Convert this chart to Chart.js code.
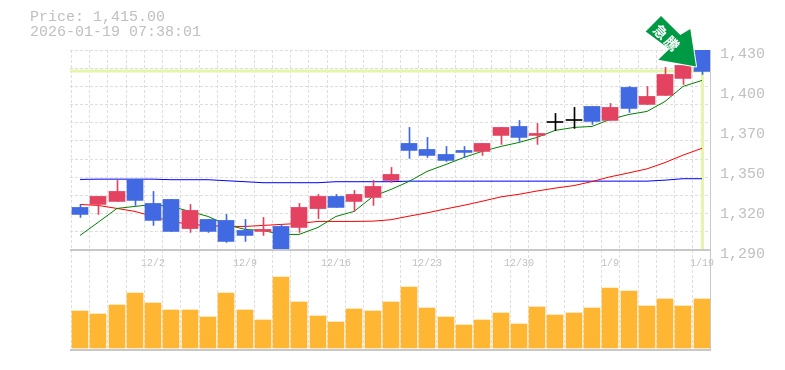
<!DOCTYPE html>
<html><head><meta charset="utf-8">
<style>
html,body{margin:0;padding:0;background:#fff;width:785px;height:370px;overflow:hidden}
canvas{position:absolute;left:0;top:0}
#info{position:absolute;left:30px;top:10px;font:15px/15px "Liberation Mono",monospace;color:#c0c0c0;white-space:pre}
</style>
<script src="https://cdn.jsdelivr.net/npm/chart.js@4"></script>
</head><body>
<canvas id="price" width="785" height="275"></canvas>
<canvas id="vol" width="785" height="370"></canvas>
<div id="info">Price: 1,415.00
2026-01-19 07:38:01</div>
<script>
const dates=['11/26','11/27','11/28','12/1','12/2','12/3','12/4','12/5','12/8','12/9','12/10','12/11','12/12','12/15','12/16','12/17','12/18','12/19','12/22','12/23','12/24','12/25','12/26','12/29','12/30','1/5','1/6','1/7','1/8','1/9','1/13','1/14','1/15','1/16','1/19'];
const opens=[1319.8,1321.9,1324,1339.4,1322.6,1325.4,1305,1311.4,1310.7,1303.7,1303,1306.5,1305.8,1319,1327.5,1324,1326.8,1338.7,1364.6,1360.4,1356.9,1359.7,1359,1370.2,1376.5,1370.2,1379.25,1380.65,1390.5,1380.7,1403.8,1391.9,1398.2,1410.1,1430];
const closes=[1314.9,1327.5,1331,1324.7,1310.7,1303,1317.7,1303,1296,1300.2,1304.4,1290,1319.8,1327.5,1319.8,1328.9,1334.5,1342.9,1359.7,1356.2,1352.7,1358.3,1364.6,1375.8,1368.8,1371.6,1379.25,1380.65,1380,1389.8,1389.1,1397.5,1412.9,1419.2,1415];
const highs=[1321.9,1327.5,1338.7,1339.4,1331,1325.4,1321.9,1311.4,1314.9,1311.4,1312.8,1307.9,1322.6,1328.9,1328.9,1331.7,1338.7,1347.8,1375.8,1368.8,1362.5,1362.5,1364.6,1375.8,1380.7,1378.6,1385.6,1389.8,1390.5,1392.6,1404.5,1404.5,1417.8,1419.2,1430];
const lows=[1312.8,1314.9,1324,1321.2,1307.2,1303,1302.3,1302.3,1295.3,1296,1300.2,1290,1302.3,1312,1319.8,1317,1321.2,1337.3,1354.1,1354.8,1352,1354.8,1356.2,1363.9,1366,1363.9,1373.7,1375.1,1377.9,1380.7,1386.3,1391.9,1398.2,1405.9,1412.9];
const maShort=[1300.2,1309.3,1319.1,1320.5,1321.9,1320.5,1317,1313.5,1307.9,1304.4,1303.7,1300.9,1300.9,1305.8,1313.5,1317,1327.5,1332.4,1338,1345,1349.9,1354.8,1359,1362.5,1365.3,1368.8,1373.7,1375.8,1376.5,1381.4,1384.9,1387,1394,1404.5,1408.7];
const maMid=[1321.9,1321.2,1319.1,1317,1313.5,1310,1307.9,1307.2,1306.5,1306.5,1307.2,1307.9,1308.6,1310,1310,1310,1310.2,1311.2,1313.7,1316,1318.8,1321.3,1324.1,1327.2,1329,1331.3,1333.3,1335.1,1337.9,1341.2,1344,1346.8,1351.2,1356.4,1361.2];
const maLong=[1339.4,1339.6,1339.6,1339.6,1339.6,1339.2,1339.2,1339.2,1338.5,1337.8,1337.1,1337.1,1337.1,1337.1,1337.8,1337.8,1337.8,1337.8,1338.2,1338.2,1338.2,1338.2,1338.2,1338.2,1338.2,1338.2,1338.2,1338.2,1338.2,1338.2,1338.2,1338.2,1338.9,1339.9,1339.9];
const volumes=[37000,34000,43000,55000,45000,38000,38000,31000,55000,38000,28000,71000,46000,32000,26000,39000,37000,46000,61000,40000,31000,23000,28000,35000,24000,41000,33000,35000,40000,60000,57000,42000,49000,42000,49000];
const priceTicks=[1290,1320,1350,1370,1400,1430];
const tickPositions=[1290,1318,1346,1374,1402,1430];
const lastPrice=1415;
const badgeText='急騰';

const GREY='#c0c0c0',GRID='#dedede',EDGE='#c8c8c8';
const UP='#e34360',DOWN='#4169e1',DOJI='#000000',VOL='#ffb733',MARK='#e3f6a9';
const fmt=n=>n.toLocaleString('en-US');
const snap=shift=>scale=>{const f=Object.getPrototypeOf(scale).getPixelForValue;
  scale.getPixelForValue=function(v,i){return Math.round(f.call(this,v,i)+0.86)+shift;};};
const candleColor=ctx=>{const i=ctx.dataIndex;return closes[i]>opens[i]?UP:closes[i]<opens[i]?DOWN:DOJI;};
const xGrid={offset:true,color:GRID,lineWidth:1,tickLength:0,drawTicks:false};
const dash={dash:[3,2]};

const marker={id:'marker',beforeDatasetsDraw(c){
  const g=c.ctx,a=c.chartArea,y=c.scales.y.getPixelForValue(lastPrice),x=c.scales.x.getPixelForValue(dates.length-1);
  g.save();g.fillStyle=MARK;
  g.fillRect(a.left,Math.round(y)-1.5,a.right-a.left,3);
  g.fillRect(x-1,y,3,a.bottom-y-1);
  g.restore();}};
const badge={id:'badge',afterDraw(c){
  const g=c.ctx,tx=c.scales.x.getPixelForValue(dates.length-1)-6,ty=c.scales.y.getPixelForValue(lastPrice)-5;
  const shape=[[0,0],[-5.7,-37.5],[-15.7,-31.5],[-35,-50.5],[-50.3,-35],[-26.7,-17.4],[-37.7,-6.7]];
  g.save();g.translate(tx,ty);
  g.beginPath();shape.forEach((p,i)=>i?g.lineTo(p[0],p[1]):g.moveTo(p[0],p[1]));g.closePath();
  g.lineJoin='round';g.strokeStyle='#fff';g.lineWidth=2;g.stroke();
  g.fillStyle='#009a44';g.fill();
  g.translate(-29,-28);g.rotate(Math.PI/4);
  g.fillStyle='#fff';g.font='bold 14px "Noto Sans CJK JP"';g.textAlign='center';g.textBaseline='middle';
  g.letterSpacing='2px';
  g.fillText(badgeText,0,0);
  g.restore();}};

new Chart(document.getElementById('price'),{
  plugins:[marker,badge],
  data:{labels:dates,datasets:[
    {type:'bar',label:'wick',xAxisID:'xw',data:dates.map((d,i)=>[lows[i],highs[i]]),backgroundColor:candleColor,barThickness:1,grouped:false,order:1},
    {type:'bar',label:'body',data:dates.map((d,i)=>[opens[i],closes[i]]),backgroundColor:candleColor,barThickness:16,minBarLength:1,grouped:false,order:0},
    {type:'line',label:'long',data:maLong,borderColor:'#0000ff',borderWidth:1,pointRadius:0,tension:0,order:4},
    {type:'line',label:'mid',data:maMid,borderColor:'#ff0000',borderWidth:1,pointRadius:0,tension:0,order:3},
    {type:'line',label:'short',data:maShort,borderColor:'#008000',borderWidth:1,pointRadius:0,tension:0,order:2}
  ]},
  options:{responsive:false,animation:false,events:[],
    layout:{padding:{left:70,top:50,right:0,bottom:0}},
    plugins:{legend:{display:false},tooltip:{enabled:false}},
    scales:{
      x:{offset:true,afterDataLimits:snap(0),grid:xGrid,border:{display:false,...dash},
        afterFit:s=>{s.height=25;},
        ticks:{autoSkip:false,maxRotation:0,padding:7,color:GREY,font:{family:'"Liberation Mono"',size:10},
          callback(v,i){return i%5===4?dates[i]:'';}}},
      xw:{offset:true,display:false,afterDataLimits:snap(0.5)},
      y:{position:'right',min:1290,max:1430,afterBuildTicks:s=>{s.ticks=Array.from({length:12},(_,i)=>({value:1290+i*140/11}));},
        grid:{color:GRID,drawTicks:false},border:{display:false,...dash},ticks:{display:false},afterFit:s=>{s.width=0;}},
      yl:{position:'right',min:1290,max:1430,afterBuildTicks:s=>{s.ticks=tickPositions.map(v=>({value:v}));},
        grid:{display:false,drawTicks:false},border:{display:true,color:EDGE,width:1},
        ticks:{padding:10,labelOffset:4,color:GREY,font:{family:'"Liberation Mono"',size:15},
          callback(v,i){return fmt(priceTicks[i]);}},afterFit:s=>{s.width=75;}}
    }}
});

new Chart(document.getElementById('vol'),{
  data:{labels:dates,datasets:[{type:'bar',label:'volume',data:volumes,backgroundColor:VOL,barThickness:16}]},
  options:{responsive:false,animation:false,events:[],
    layout:{padding:{left:70,top:250,right:75,bottom:20}},
    plugins:{legend:{display:false},tooltip:{enabled:false}},
    scales:{
      x:{offset:true,afterDataLimits:snap(0),grid:xGrid,border:{display:false,...dash},ticks:{display:false},afterFit:s=>{s.height=0;}},
      y:{position:'right',min:-2000,max:98000,grid:{display:false},border:{display:true,color:EDGE},ticks:{display:false},afterFit:s=>{s.width=0;}}
    }},
  plugins:[{id:'frame',afterDraw(c){const g=c.ctx,a=c.chartArea;g.save();g.strokeStyle=EDGE;g.lineWidth=2;
    g.beginPath();g.moveTo(a.left,a.top);g.lineTo(a.right,a.top);g.moveTo(a.left,a.bottom);g.lineTo(a.right+1,a.bottom);g.stroke();g.restore();}}]
});
</script>
</body></html>
